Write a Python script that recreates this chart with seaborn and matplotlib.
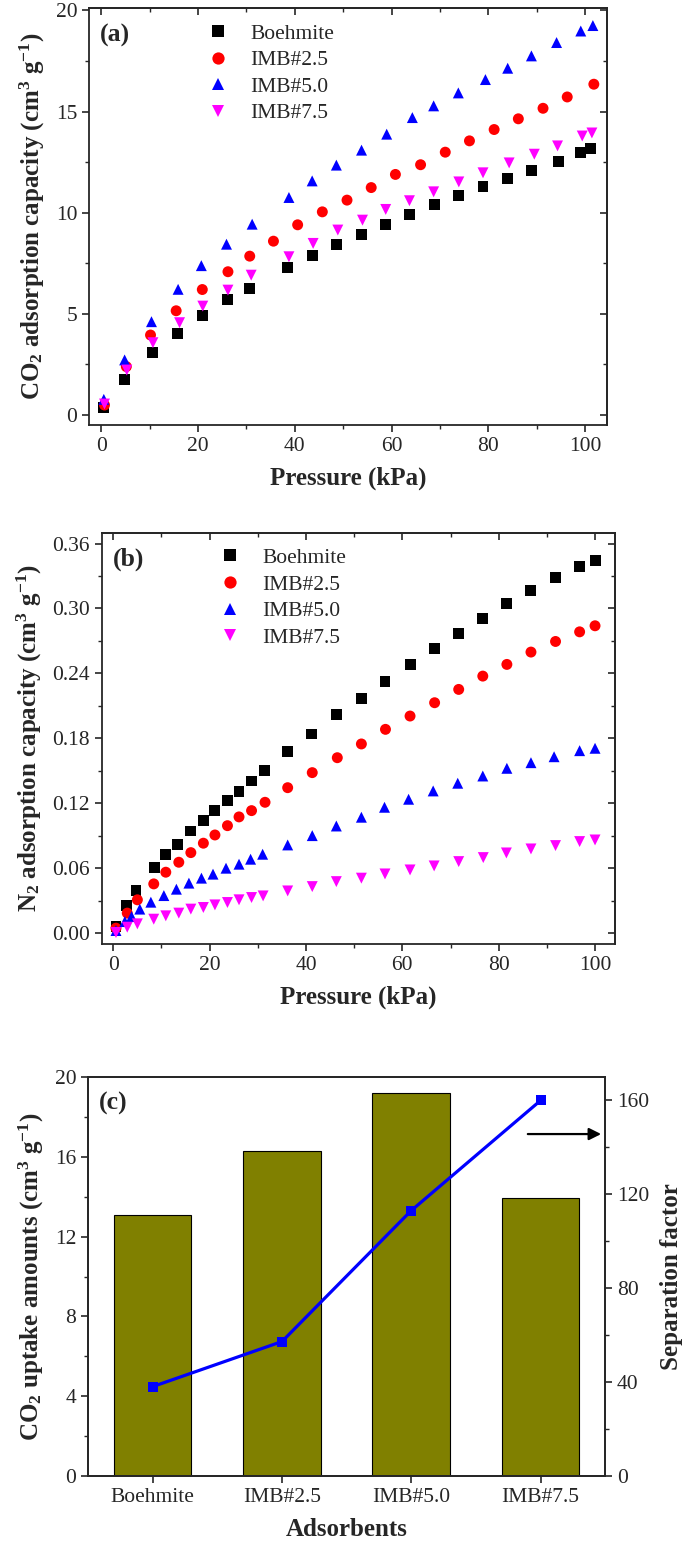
import numpy as np
import pandas as pd
import matplotlib.pyplot as plt
import seaborn as sns
from matplotlib.ticker import MultipleLocator, FormatStrFormatter

# ---- panel (a): CO2 isotherms ----
co2_p_boehmite = [0.55, 4.85, 10.7, 15.7, 20.9, 26.2, 30.7, 38.5, 43.7, 48.7, 53.8,
                  58.8, 63.7, 68.8, 73.8, 78.9, 83.9, 88.9, 94.5, 99.1, 101.1]
co2_q_boehmite = [0.38, 1.73, 3.10, 4.03, 4.92, 5.71, 6.26, 7.29, 7.87, 8.44, 8.94,
                  9.43, 9.91, 10.40, 10.85, 11.29, 11.67, 12.07, 12.54, 12.96, 13.17]
co2_p_imb25 = [0.69, 5.2, 10.2, 15.5, 20.9, 26.2, 30.7, 35.6, 40.6, 45.7, 50.8,
               55.8, 60.8, 66.0, 71.1, 76.1, 81.2, 86.2, 91.3, 96.3, 101.8]
co2_q_imb25 = [0.49, 2.39, 3.95, 5.15, 6.20, 7.08, 7.85, 8.59, 9.40, 10.04, 10.62,
               11.24, 11.89, 12.37, 12.99, 13.55, 14.11, 14.64, 15.16, 15.72, 16.35]
co2_p_imb50 = [0.55, 4.85, 10.4, 15.9, 20.7, 25.9, 31.2, 38.8, 43.6, 48.6, 53.8,
               59.0, 64.3, 68.7, 73.8, 79.4, 84.0, 88.9, 94.1, 99.1, 101.6]
co2_q_imb50 = [0.77, 2.72, 4.61, 6.21, 7.38, 8.44, 9.43, 10.75, 11.57, 12.35, 13.09,
               13.88, 14.70, 15.28, 15.92, 16.58, 17.14, 17.75, 18.41, 18.98, 19.25]
co2_p_imb75 = [0.69, 5.3, 10.7, 16.2, 21.0, 26.2, 31.0, 38.8, 43.8, 48.9, 54.0,
               58.8, 63.7, 68.7, 73.9, 78.9, 84.3, 89.5, 94.3, 99.4, 101.4]
co2_q_imb75 = [0.54, 2.22, 3.57, 4.56, 5.38, 6.17, 6.91, 7.82, 8.48, 9.14, 9.63,
               10.16, 10.59, 11.03, 11.52, 11.97, 12.46, 12.89, 13.30, 13.79, 13.94]

# ---- panel (b): N2 isotherms ----
n2_p_boehmite = [0.56, 2.78, 4.71, 8.5, 10.9, 13.3, 16.1, 18.7, 21.0, 23.7, 26.1, 28.6, 31.3,
                 36.2, 41.2, 46.3, 51.5, 56.4, 61.6, 66.6, 71.6, 76.6, 81.7, 86.7, 91.8, 96.8, 100.0]
n2_q_boehmite = [0.0061, 0.0252, 0.0390, 0.0606, 0.0729, 0.0821, 0.0944, 0.1040, 0.1129,
                 0.1224, 0.1307, 0.1406, 0.1501, 0.1680, 0.1840, 0.2018, 0.2169, 0.2323,
                 0.2483, 0.2634, 0.2769, 0.2904, 0.3043, 0.3169, 0.3283, 0.3384, 0.3440]
n2_p_imb25 = [0.56, 2.9, 5.0, 8.4, 10.9, 13.6, 16.1, 18.7, 21.1, 23.7, 26.1, 28.7, 31.5,
              36.2, 41.3, 46.5, 51.5, 56.5, 61.6, 66.7, 71.7, 76.7, 81.7, 86.7, 91.8, 96.8, 100.0]
n2_q_imb25 = [0.0046, 0.0185, 0.0308, 0.0455, 0.0563, 0.0655, 0.0744, 0.0831, 0.0907,
              0.0993, 0.1074, 0.1132, 0.1209, 0.1344, 0.1483, 0.1621, 0.1748, 0.1883,
              0.2006, 0.2129, 0.2252, 0.2375, 0.2483, 0.2597, 0.2695, 0.2784, 0.2840]
n2_p_imb50 = [0.56, 2.4, 3.8, 5.5, 7.8, 10.5, 13.1, 15.7, 18.3, 20.7, 23.4, 26.1, 28.5, 31.0,
              36.2, 41.3, 46.3, 51.5, 56.3, 61.3, 66.4, 71.5, 76.7, 81.7, 86.7, 91.5, 96.8, 100.0]
n2_q_imb50 = [0.0024, 0.0107, 0.0153, 0.0222, 0.0286, 0.0347, 0.0406, 0.0462, 0.0508,
              0.0545, 0.0600, 0.0637, 0.0683, 0.0729, 0.0815, 0.0901, 0.0990, 0.1071,
              0.1163, 0.1237, 0.1314, 0.1385, 0.1452, 0.1523, 0.1575, 0.1630, 0.1686, 0.1708]
n2_p_imb75 = [0.56, 2.9, 5.0, 8.4, 10.9, 13.6, 16.1, 18.7, 21.1, 23.7, 26.1, 28.7, 31.1,
              36.2, 41.3, 46.3, 51.5, 56.4, 61.6, 66.6, 71.7, 76.8, 81.6, 86.7, 91.8, 96.8, 100.0]
n2_q_imb75 = [0.0006, 0.0055, 0.0086, 0.0129, 0.0160, 0.0185, 0.0222, 0.0237, 0.0261,
              0.0283, 0.0308, 0.0329, 0.0344, 0.0390, 0.0430, 0.0476, 0.0508, 0.0547,
              0.0584, 0.0621, 0.0661, 0.0698, 0.0741, 0.0778, 0.0809, 0.0846, 0.0861]

# ---- panel (c) ----
adsorbents = ["Boehmite", "IMB#2.5", "IMB#5.0", "IMB#7.5"]
co2_uptake = [13.1, 16.3, 19.2, 13.95]
sep_factor = [38.1, 57.3, 113.1, 160.0]

samples = adsorbents
palette = {"Boehmite": "black", "IMB#2.5": "red", "IMB#5.0": "blue", "IMB#7.5": "magenta"}
markers = {"Boehmite": "s", "IMB#2.5": "o", "IMB#5.0": "^", "IMB#7.5": "v"}


def long_df(ps, qs):
    frames = [pd.DataFrame({"p": p, "q": q, "sample": s}) for p, q, s in zip(ps, qs, samples)]
    return pd.concat(frames, ignore_index=True)


df_co2 = long_df([co2_p_boehmite, co2_p_imb25, co2_p_imb50, co2_p_imb75],
                 [co2_q_boehmite, co2_q_imb25, co2_q_imb50, co2_q_imb75])
df_n2 = long_df([n2_p_boehmite, n2_p_imb25, n2_p_imb50, n2_p_imb75],
                [n2_q_boehmite, n2_q_imb25, n2_q_imb50, n2_q_imb75])

sns.set_style("ticks")
plt.rcParams["font.family"] = ["Liberation Serif", "DejaVu Serif"]
plt.rcParams["mathtext.fontset"] = "custom"
plt.rcParams["mathtext.rm"] = "Liberation Serif:bold"
plt.rcParams["mathtext.bf"] = "Liberation Serif:bold"
plt.rcParams["mathtext.default"] = "bf"
plt.rcParams["axes.linewidth"] = 1.3

FS = 15.5      # tick labels / legend
FL = 18        # axis labels
FT = 18.5      # panel tags
fig = plt.figure(figsize=(6.85, 15.49), dpi=100)
ax1 = fig.add_axes([0.130, 0.7256, 0.756, 0.269])
ax2 = fig.add_axes([0.1485, 0.3906, 0.749, 0.2655])
ax3 = fig.add_axes([0.1285, 0.0471, 0.755, 0.2576])


def style_iso(ax, df, ylim, ymaj, ymin, ylabel, tag, fmt):
    sns.scatterplot(data=df, x="p", y="q", hue="sample", style="sample",
                    palette=palette, markers=markers, s=62, linewidth=0, ax=ax)
    h, l = ax.get_legend_handles_labels()
    ax.legend(h, l, frameon=False, loc="upper left", bbox_to_anchor=(0.17, 1.01),
              fontsize=FS, handletextpad=0.5, labelspacing=0.3, markerscale=1.12)
    ax.set_xlim(-2.5, 104.5)
    ax.set_ylim(*ylim)
    ax.xaxis.set_major_locator(MultipleLocator(20))
    ax.xaxis.set_minor_locator(MultipleLocator(10))
    ax.yaxis.set_major_locator(MultipleLocator(ymaj))
    ax.yaxis.set_minor_locator(MultipleLocator(ymin))
    if fmt:
        ax.yaxis.set_major_formatter(FormatStrFormatter(fmt))
    ax.tick_params(which="major", direction="out", length=5, width=1.2, labelsize=FS)
    ax.tick_params(which="minor", direction="out", length=3, width=1.0)
    # mirrored inward ticks on top/right
    top = ax.secondary_xaxis("top")
    top.xaxis.set_major_locator(MultipleLocator(20))
    top.xaxis.set_minor_locator(MultipleLocator(10))
    top.tick_params(which="both", direction="in", labeltop=False)
    top.tick_params(which="major", length=5, width=1.2)
    top.tick_params(which="minor", length=3, width=1.0)
    right = ax.secondary_yaxis("right")
    right.yaxis.set_major_locator(MultipleLocator(ymaj))
    right.yaxis.set_minor_locator(MultipleLocator(ymin))
    right.tick_params(which="both", direction="in", labelright=False)
    right.tick_params(which="major", length=5, width=1.2)
    right.tick_params(which="minor", length=3, width=1.0)
    ax.set_xlabel("Pressure (kPa)", fontsize=FL, fontweight="bold", labelpad=8)
    ax.set_ylabel(ylabel, fontsize=FL, fontweight="bold", labelpad=6)
    ax.text(0.021, 0.935, tag, transform=ax.transAxes, fontsize=FT,
            fontweight="bold", va="center", ha="left")


style_iso(ax1, df_co2, (-0.5, 20.1), 5, 2.5,
          r"CO$_2$ adsorption capacity (cm$^3$ g$^{-1}$)", "(a)", None)
style_iso(ax2, df_n2, (-0.01, 0.37), 0.06, 0.03,
          r"N$_2$ adsorption capacity (cm$^3$ g$^{-1}$)", "(b)", "%.2f")
ax2.set_xlim(-2.4, 104.1)

# ---- panel (c) ----
sns.barplot(x=adsorbents, y=co2_uptake, color="#808000", edgecolor="black",
            linewidth=0.8, width=0.6, saturation=1, ax=ax3)
ax3.set_xlim(-0.5, 3.5)
ax3.set_ylim(0, 20)
ax3.yaxis.set_major_locator(MultipleLocator(4))
ax3.yaxis.set_minor_locator(MultipleLocator(2))
ax3.tick_params(which="major", direction="out", length=5, width=1.2, labelsize=FS)
ax3.tick_params(which="minor", direction="out", length=3, width=1.0)
ax3.set_xlabel("Adsorbents", fontsize=FL, fontweight="bold", labelpad=8)
ax3.set_ylabel(r"CO$_2$ uptake amounts (cm$^3$ g$^{-1}$)", fontsize=FL,
               fontweight="bold", labelpad=6)
ax3.text(0.021, 0.935, "(c)", transform=ax3.transAxes, fontsize=FT,
         fontweight="bold", va="center", ha="left")

ax3r = ax3.twinx()
sns.lineplot(x=np.arange(len(adsorbents)), y=sep_factor, color="blue", linewidth=2.3,
             marker="s", markersize=6.5, markeredgewidth=0, ax=ax3r)
ax3r.set_ylim(0, 170)
ax3r.yaxis.set_major_locator(MultipleLocator(40))
ax3r.yaxis.set_minor_locator(MultipleLocator(20))
ax3r.tick_params(which="major", direction="out", length=5, width=1.2, labelsize=FS)
ax3r.tick_params(which="minor", direction="out", length=3, width=1.0)
ax3r.set_ylabel("Separation factor", fontsize=FL, fontweight="bold", labelpad=8)
ax3r.annotate("", xy=(3.49, 145.7), xytext=(2.88, 145.7),
              arrowprops=dict(arrowstyle="-|>", color="black", lw=1.6, mutation_scale=18))

fig.savefig("out.png", dpi=100)
